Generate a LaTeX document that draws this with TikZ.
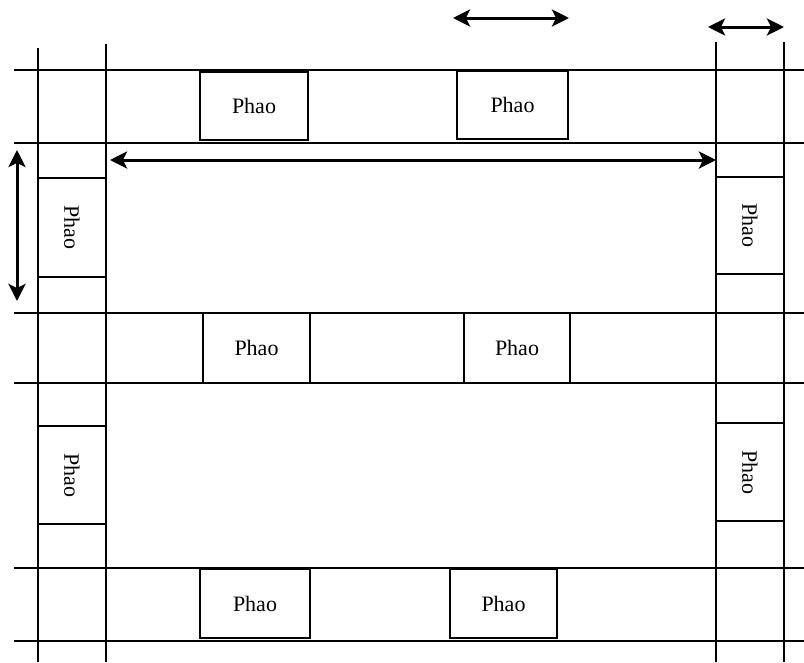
\documentclass[tikz,border=0pt]{standalone}
\usepackage{fontspec}
\setmainfont{Liberation Serif}
\usetikzlibrary{arrows.meta, positioning}

\begin{document}
\begin{tikzpicture}[x=1pt, y=-1pt, >={Stealth[length=17pt, width=17pt, inset=4pt]},
    grid/.style={line width=1.7pt},
    phao/.style={draw, line width=1.6pt, inner sep=0pt, font=\fontsize{22}{26}\selectfont},
    hphao/.style={phao, minimum width=108pt, minimum height=68pt},
    vphao/.style={phao, rotate=-90, minimum width=98pt, minimum height=68pt},
    span/.style={<->, line width=3pt}]
  \useasboundingbox (0,0) rectangle (804,662);
  % grid of walkways
  \foreach \y in {70,143,313,383,568,641}
    \draw[grid] (14,\y) -- (804,\y);
  \foreach \x/\t in {38/48,106/44,716/42,784/42}
    \draw[grid] (\x,\t) -- (\x,662);
  % floats
  \node (p11) [hphao] at (254,106) {Phao};
  \node (p12) [hphao, minimum width=111pt] at (512.5,105) {Phao};
  \node (p21) [hphao, minimum width=107pt, minimum height=70pt] at (256.5,348) {Phao};
  \node (p22) [hphao, minimum width=106pt, minimum height=70pt] at (517,348) {Phao};
  \node (p31) [hphao, minimum width=110pt, minimum height=69pt] at (255,603.5) {Phao};
  \node (p32) [hphao, minimum width=107pt, minimum height=69pt] at (503.5,603.5) {Phao};
  \node (pl1) [vphao, minimum width=99pt] at (72,227.5) {Phao};
  \node (pl2) [vphao] at (72,475) {Phao};
  \node (pr1) [vphao, minimum width=97pt] at (750,225.5) {Phao};
  \node (pr2) [vphao] at (750,472) {Phao};
  % dimension arrows
  \coordinate (aw) at (110,160);
  \coordinate (ae) at (716,160);
  \coordinate (an) at (17,150);
  \coordinate (as) at (17,301);
  \coordinate (bw) at (453,18);
  \coordinate (be) at (569,18);
  \coordinate (cw) at (708,27);
  \coordinate (ce) at (784,27);
  \draw[span] (aw) -- (ae);
  \draw[span] (an) -- (as);
  \draw[span] (bw) -- (be);
  \draw[span] (cw) -- (ce);
\end{tikzpicture}
\end{document}
